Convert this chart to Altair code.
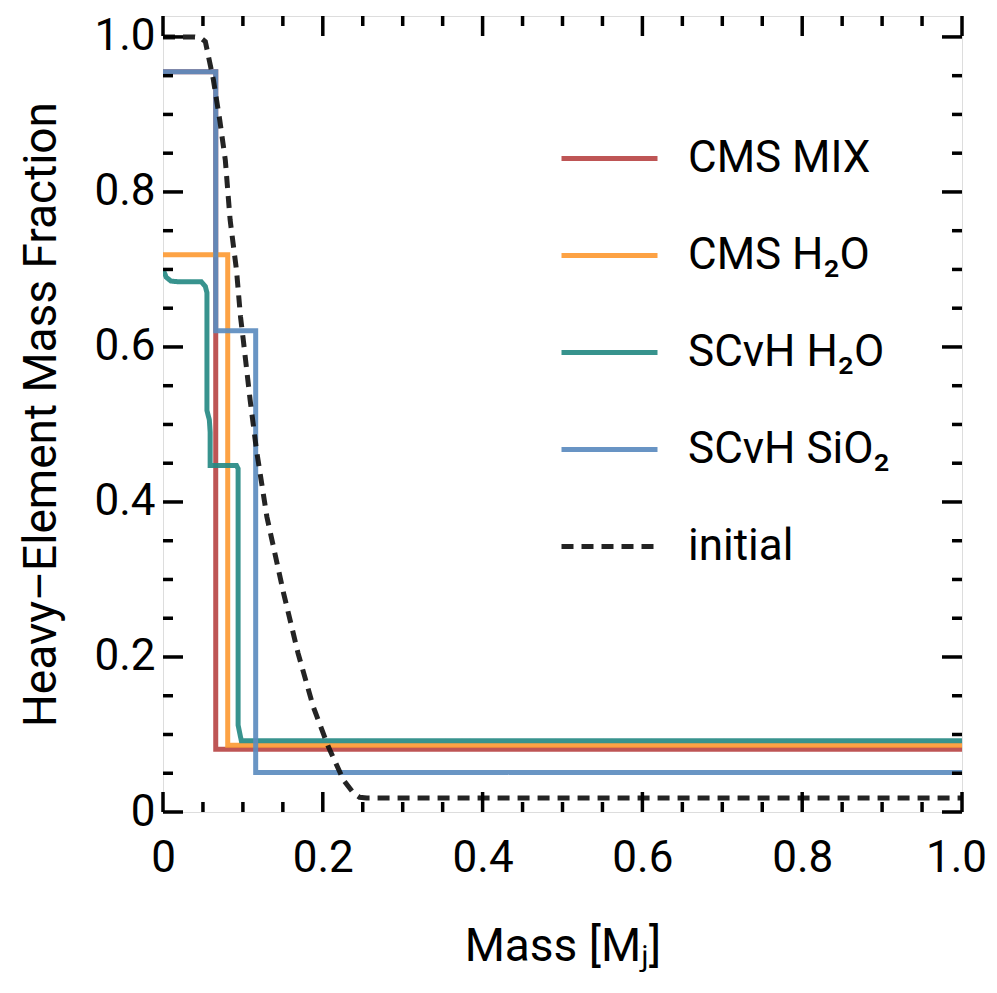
import altair as alt
import pandas as pd

FONT = "Roboto, Lato, sans-serif"

series_names = ["CMS MIX", "CMS H₂O", "SCvH H₂O", "SCvH SiO₂", "initial"]
series_colors = ["#b94747", "#fd9b35", "#278a84", "#5c8cbf", "#111111"]
series_dash = [[1, 0], [1, 0], [1, 0], [1, 0], [12, 8]]

cms_mix_x = [0, 0.066, 0.066, 1.0]
cms_mix_y = [0.955, 0.955, 0.081, 0.081]

cms_h2o_x = [0, 0.081, 0.081, 1.0]
cms_h2o_y = [0.719, 0.719, 0.086, 0.086]

scvh_h2o_x = [0, 0.004, 0.010, 0.020, 0.048, 0.053, 0.055, 0.055, 0.058, 0.059, 0.059,
              0.092, 0.094, 0.094, 0.098, 1.0]
scvh_h2o_y = [0.700, 0.690, 0.685, 0.684, 0.684, 0.678, 0.670, 0.518, 0.506, 0.490, 0.447,
              0.447, 0.443, 0.112, 0.092, 0.092]

scvh_sio2_x = [0, 0.066, 0.066, 0.116, 0.116, 1.0]
scvh_sio2_y = [0.955, 0.955, 0.621, 0.621, 0.051, 0.051]

initial_x = [0, 0.040, 0.047, 0.053, 0.063, 0.071, 0.078, 0.084, 0.092, 0.097, 0.1005, 0.109,
             0.117, 0.130, 0.151, 0.169, 0.188, 0.207, 0.226, 0.238, 0.246, 0.255, 1.0]
initial_y = [1.0, 1.0, 0.999, 0.994, 0.945, 0.893, 0.841, 0.764, 0.699, 0.639, 0.609, 0.532,
             0.467, 0.381, 0.282, 0.205, 0.136, 0.084, 0.041, 0.025, 0.019, 0.018, 0.018]

x_major = [0, 0.2, 0.4, 0.6, 0.8, 1.0]
x_minor = [0.05, 0.1, 0.15, 0.25, 0.3, 0.35, 0.45, 0.5, 0.55, 0.65, 0.7, 0.75, 0.85, 0.9, 0.95]
y_major = [0, 0.2, 0.4, 0.6, 0.8, 1.0]
y_minor = [0.05, 0.1, 0.15, 0.25, 0.3, 0.35, 0.45, 0.5, 0.55, 0.65, 0.7, 0.75, 0.85, 0.9, 0.95]

W, H = 799, 796
Y_MAX = 1.027

rows = []
for name, xs, ys in zip(series_names,
                        [cms_mix_x, cms_h2o_x, scvh_h2o_x, scvh_sio2_x, initial_x],
                        [cms_mix_y, cms_h2o_y, scvh_h2o_y, scvh_sio2_y, initial_y]):
    for i, (a, b) in enumerate(zip(xs, ys)):
        rows.append({"series": name, "mass": a, "frac": b, "idx": i})
df = pd.DataFrame(rows)

xscale = alt.Scale(domain=[0, 1.0], nice=False, zero=False)
yscale = alt.Scale(domain=[0, Y_MAX], nice=False, zero=False)

legend = alt.Legend(
    title=None, orient="none", legendX=396, legendY=92,
    labelFont=FONT, labelFontSize=44, labelColor="black", labelOffset=28,
    symbolType="stroke", symbolSize=9216, symbolStrokeWidth=5,
    rowPadding=24, padding=0, labelLimit=400,
)

lines = alt.Chart(df).mark_line(strokeWidth=5, opacity=0.92, clip=True).encode(
    x=alt.X("mass:Q", scale=xscale,
            axis=alt.Axis(values=x_major, ticks=False, domain=False, grid=False,
                          labelExpr="datum.value == 0 ? '0' : format(datum.value, '.1f')",
                          labelFont=FONT, labelFontSize=44, labelColor="black",
                          labelPadding=24, labelFlush=False,
                          labelOffset={"expr": "datum.value == 1 ? -6 : 0"},
                          title="Mass [Mⱼ]", titleFont=FONT, titleFontSize=46,
                          titleFontWeight="normal", titleColor="black", titlePadding=44)),
    y=alt.Y("frac:Q", scale=yscale,
            axis=alt.Axis(values=y_major, ticks=False, domain=False, grid=False,
                          labelExpr="datum.value == 0 ? '0' : format(datum.value, '.1f')",
                          labelFont=FONT, labelFontSize=44, labelColor="black",
                          labelPadding=8, labelFlush=False,
                          title="Heavy–Element Mass Fraction", titleFont=FONT,
                          titleFontSize=46, titleFontWeight="normal", titleColor="black",
                          titlePadding=28)),
    color=alt.Color("series:N", scale=alt.Scale(domain=series_names, range=series_colors),
                    legend=legend),
    strokeDash=alt.StrokeDash("series:N", scale=alt.Scale(domain=series_names, range=series_dash),
                              legend=legend),
    order="idx:Q",
)

xt_major = pd.DataFrame({"v": x_major})
xt_minor = pd.DataFrame({"v": x_minor})
yt_major = pd.DataFrame({"v": y_major})
yt_minor = pd.DataFrame({"v": y_minor})

def xticks(data, L):
    bottom = alt.Chart(data).mark_rule(color="black", strokeWidth=3.5).encode(
        x=alt.X("v:Q", scale=xscale), y=alt.value(H), y2=alt.value(H - L))
    top = alt.Chart(data).mark_rule(color="black", strokeWidth=3.5).encode(
        x=alt.X("v:Q", scale=xscale), y=alt.value(0), y2=alt.value(L))
    return [bottom, top]

def yticks(data, L):
    left = alt.Chart(data).mark_rule(color="black", strokeWidth=3.5).encode(
        y=alt.Y("v:Q", scale=yscale), x=alt.value(0), x2=alt.value(L))
    right = alt.Chart(data).mark_rule(color="black", strokeWidth=3.5).encode(
        y=alt.Y("v:Q", scale=yscale), x=alt.value(W), x2=alt.value(W - L))
    return [left, right]

tick_layers = xticks(xt_major, 20) + xticks(xt_minor, 10) + yticks(yt_major, 20) + yticks(yt_minor, 10)

chart = alt.layer(lines, *tick_layers).properties(
    width=W, height=H,
    autosize=alt.AutoSizeParams(type="none"),
    padding={"left": 155, "top": 8, "right": 26, "bottom": 160},
).configure_view(stroke="black", strokeWidth=4).configure(background="white")

chart.save("out.html", embed_options={"renderer": "svg", "actions": False})
